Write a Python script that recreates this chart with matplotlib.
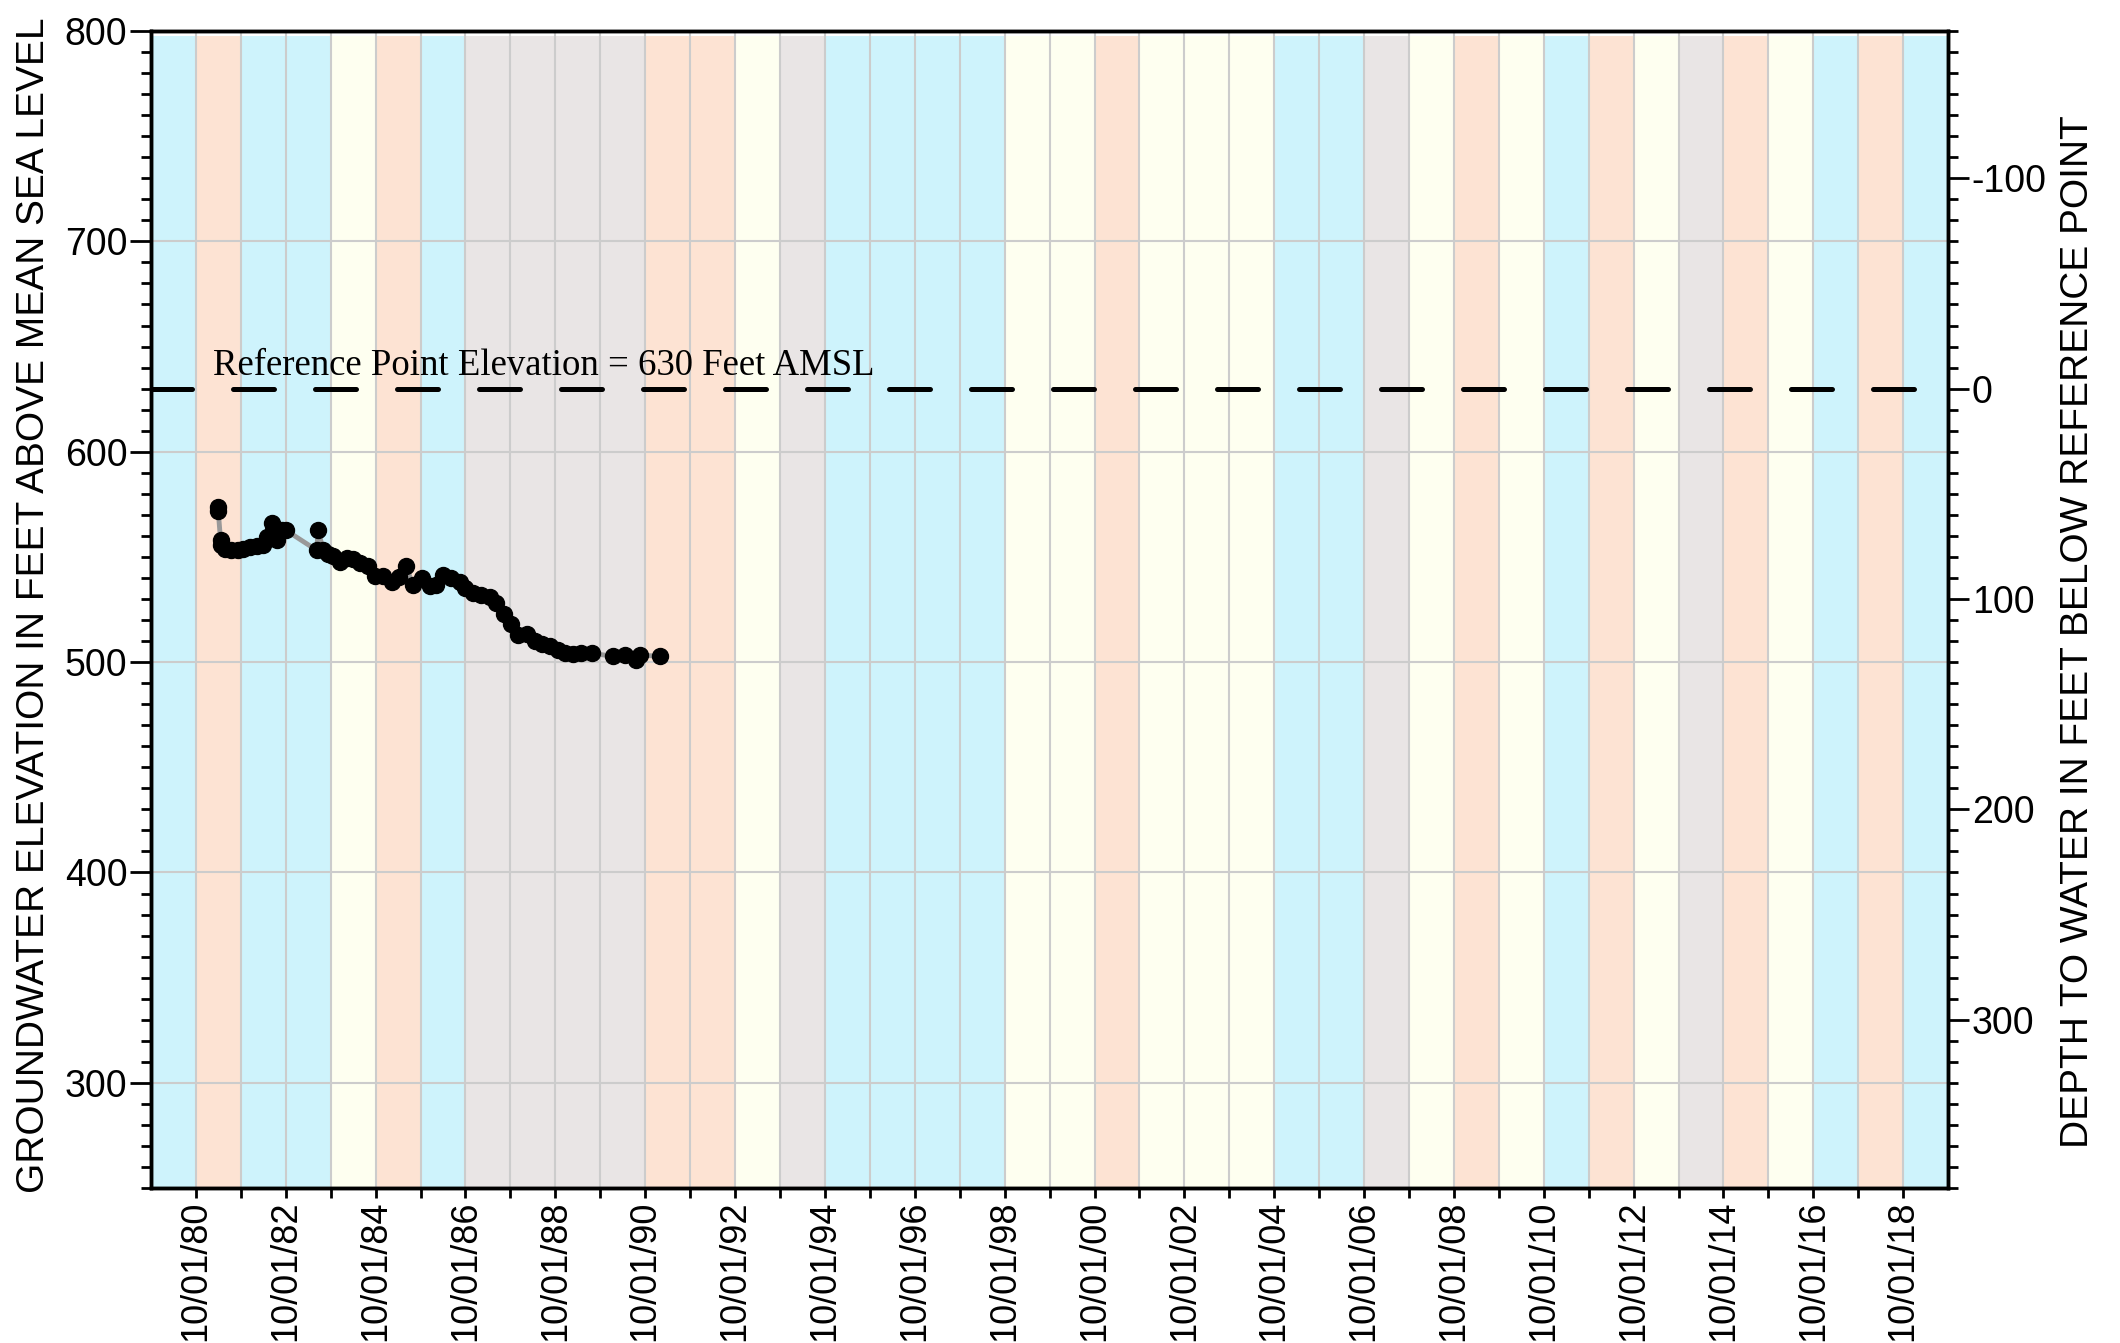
import matplotlib
matplotlib.use("Agg")
import matplotlib.pyplot as plt
import matplotlib.dates as mdates
import matplotlib.transforms as mtransforms
from matplotlib.ticker import FixedLocator, MultipleLocator
import pandas as pd

################################################################################

# DATA
# water year type per water year (band runs 10/01 of previous year -> 10/01)
water_years = list(range(1980, 2020))
year_types = [
    "W", "D", "W", "W", "A", "D", "W", "C", "C", "C",   # 1980-1989
    "C", "D", "D", "A", "C", "W", "W", "W", "W", "A",   # 1990-1999
    "A", "D", "A", "A", "A", "W", "W", "C", "A", "D",   # 2000-2009
    "A", "W", "D", "A", "C", "D", "A", "W", "D", "W",   # 2010-2019
]

# groundwater elevation measurements (feet AMSL)
obs_dates = [
    "1981-03-28", "1981-03-31", "1981-04-19", "1981-04-25", "1981-05-23",
    "1981-07-16", "1981-09-08", "1981-10-20", "1981-12-13", "1982-02-06",
    "1982-03-31", "1982-04-28", "1982-06-08", "1982-06-21", "1982-07-23",
    "1982-08-28", "1982-10-02", "1983-06-09", "1983-06-22", "1983-08-01",
    "1983-09-11", "1983-10-21", "1983-12-15", "1984-02-08", "1984-04-01",
    "1984-05-25", "1984-08-01", "1984-09-24", "1984-12-01", "1985-02-07",
    "1985-04-10", "1985-06-03", "1985-08-01", "1985-10-09", "1985-12-16",
    "1986-02-03", "1986-04-02", "1986-06-09", "1986-08-16", "1986-09-26",
    "1986-12-02", "1987-02-08", "1987-04-16", "1987-06-09", "1987-08-08",
    "1987-10-04", "1987-12-02", "1988-02-14", "1988-04-17", "1988-06-18",
    "1988-08-16", "1988-10-23", "1988-12-17", "1989-02-22", "1989-05-01",
    "1989-07-29", "1990-01-13", "1990-04-17", "1990-07-21", "1990-08-17",
    "1991-01-27",
]
elevations = [
    573.5, 571.8, 558.0, 555.6, 554.0,
    553.5, 553.2, 554.0, 554.8, 555.1,
    555.6, 559.5, 565.9, 562.7, 558.0,
    563.0, 562.7, 553.2, 562.7, 553.2,
    551.6, 550.4, 547.6, 549.3, 548.8,
    546.9, 545.6, 540.8, 540.8, 538.2,
    540.3, 545.6, 536.6, 539.8, 536.1,
    536.6, 541.3, 540.2, 538.2, 535.0,
    532.9, 531.8, 531.1, 527.9, 522.8,
    517.9, 512.8, 513.3, 510.1, 508.8,
    507.6, 505.7, 504.4, 503.8, 504.4,
    504.1, 502.8, 503.3, 500.9, 503.3,
    502.8,
]

ref_elev = 630
ref_label = "Reference Point Elevation = 630 Feet AMSL"
tick_years = list(range(1980, 2019))

################################################################################

# STYLE
type_colors = {
    "W": "#cef3fc",   # wet
    "A": "#fefff0",   # above / below normal
    "D": "#fde3d3",   # dry
    "C": "#e9e5e5",   # critical
}

plt.rcParams["font.family"] = ["Liberation Sans", "DejaVu Sans"]
plt.rcParams["axes.unicode_minus"] = False

fig = plt.figure(figsize=(21.2, 13.43), dpi=100)
ax = fig.add_axes([0.0712, 0.1154, 0.8477, 0.8615])

# water year bands
for wy, kind in zip(water_years, year_types):
    ax.axvspan(pd.Timestamp(wy - 1, 10, 1), pd.Timestamp(wy, 10, 1),
               ymax=0.996, color=type_colors[kind], lw=0, zorder=0)

# grid
for yr in tick_years:
    ax.axvline(pd.Timestamp(yr, 10, 1), color="#cccccc", lw=1.5, zorder=1)
for v in range(300, 801, 100):
    ax.axhline(v, color="#cccccc", lw=1.5, zorder=1)

# reference line and label
ax.axhline(ref_elev, color="black", lw=3.6, dashes=(8.2, 8.2),
           dash_capstyle="round", zorder=3)
trans = mtransforms.blended_transform_factory(ax.transAxes, ax.transData)
ax.text(0.0345, ref_elev + 6.4, ref_label, transform=trans,
        family=["Liberation Serif", "DejaVu Serif"], fontsize=26.5,
        va="baseline", ha="left", zorder=4)

# measurements
dates = pd.to_datetime(obs_dates)
ax.plot(dates, elevations, color="#999999", lw=3.5, zorder=4)
ax.plot(dates, elevations, "o", color="black", ms=11.5, zorder=5)

# axes
ax.set_xlim(pd.Timestamp(1979, 10, 1), pd.Timestamp(2019, 10, 1))
ax.set_ylim(250, 800)

tick_pos = [mdates.date2num(pd.Timestamp(y, 10, 1)) for y in tick_years]
tick_lab = [f"10/01/{y % 100:02d}" if y % 2 == 0 else "" for y in tick_years]
ax.xaxis.set_major_locator(FixedLocator(tick_pos))
ax.set_xticklabels(tick_lab, rotation=90, fontsize=26)
ax.tick_params(axis="x", length=7, width=2, pad=2)

ax.yaxis.set_major_locator(MultipleLocator(100))
ax.yaxis.set_minor_locator(MultipleLocator(10))
ax.set_yticks(range(300, 801, 100))
ax.tick_params(axis="y", which="major", length=15, width=2, labelsize=27, pad=2)
ax.tick_params(axis="y", which="minor", length=7.5, width=2)

for s in ax.spines.values():
    s.set_linewidth(2.5)

ax.set_ylabel("GROUNDWATER ELEVATION IN FEET ABOVE MEAN SEA LEVEL",
              fontsize=28, va="center")
ax.yaxis.set_label_coords(-0.065, 0.504)

ax2 = ax.twinx()
ax2.set_ylim(ref_elev - 250, ref_elev - 800)
ax2.yaxis.set_major_locator(MultipleLocator(100))
ax2.yaxis.set_minor_locator(MultipleLocator(10))
ax2.set_yticks([-100, 0, 100, 200, 300])
ax2.tick_params(axis="y", which="major", length=15, width=2, labelsize=27, pad=2)
ax2.tick_params(axis="y", which="minor", length=7.5, width=2)
for s in ax2.spines.values():
    s.set_linewidth(2.5)
ax2.set_ylabel("DEPTH TO WATER IN FEET BELOW REFERENCE POINT",
               fontsize=28, va="center", rotation=90)
ax2.yaxis.set_label_coords(1.0723, 0.4805)

fig.savefig("out.png", dpi=100)
